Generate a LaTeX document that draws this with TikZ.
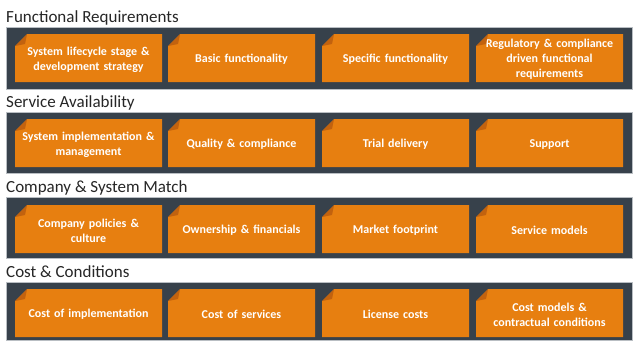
\documentclass[tikz,border=0pt]{standalone}
\usepackage{fontspec}
\setmainfont{Carlito}
\definecolor{bandc}{HTML}{37414B}
\definecolor{bandline}{HTML}{B9BEC3}
\definecolor{orangec}{HTML}{E77F10}
\definecolor{foldc}{HTML}{C2620E}
\begin{document}
\begin{tikzpicture}[x=1pt,y=-1pt,
  band/.style={fill=bandc,draw=bandline,line width=0.8pt},
  title/.style={anchor=base west,inner sep=0pt,font=\fontsize{17}{20}\selectfont,text=black!85},
  card/.style={fill=orangec,draw=none,minimum width=147pt,minimum height=48pt,inner sep=0pt},
  cardtext/.style={text=white,font=\bfseries\fontsize{12}{15}\selectfont,align=center,text width=142pt,inner sep=0pt}
]
\useasboundingbox (0,0) rectangle (636,349);
\fill[white] (0,0) rectangle (636,349);
% card with folded corner: #1 name, #2 x, #3 y, #4 text
\newcommand{\mycard}[4]{%
  \fill[orangec] (#2+12,#3) -- (#2+147,#3) -- (#2+147,#3+48) -- (#2,#3+48) -- (#2,#3+12) -- cycle;
  \node[cardtext] (#1) at (#2+73.5,#3+25.5) {#4};
  \fill[foldc] (#2,#3+12) -- (#2+12,#3) -- (#2+10,#3+10) -- cycle;
  \fill[bandc] (#2-0.5,#3-0.5) -- (#2+12,#3-0.5) -- (#2-0.5,#3+12) -- cycle;
}
% titles
\node[title] (t1) at (6,22) {Functional Requirements};
\node[title] (t2) at (6,107) {Service Availability};
\node[title] (t3) at (6,192) {Company \& System Match};
\node[title] (t4) at (6,277) {Cost \& Conditions};
% bands
\draw[band] (6,27) rectangle (632,89);
\draw[band] (6,112) rectangle (632,173);
\draw[band] (6,197) rectangle (632,258);
\draw[band] (6,282) rectangle (632,340);
% row 1
\mycard{a1}{15}{34}{System lifecycle stage \&\\development strategy}
\mycard{a2}{168}{34}{Basic functionality}
\mycard{a3}{322}{34}{Specific functionality}
\mycard{a4}{476}{34}{Regulatory \& compliance\\driven functional\\requirements}
% row 2
\mycard{b1}{15}{119}{System implementation \&\\management}
\mycard{b2}{168}{119}{Quality \& compliance}
\mycard{b3}{322}{119}{Trial delivery}
\mycard{b4}{476}{119}{Support}
% row 3
\mycard{c1}{15}{205}{Company policies \&\\culture}
\mycard{c2}{168}{205}{Ownership \& financials}
\mycard{c3}{322}{205}{Market footprint}
\mycard{c4}{476}{205}{Service models}
% row 4
\mycard{d1}{15}{289}{Cost of implementation}
\mycard{d2}{168}{289}{Cost of services}
\mycard{d3}{322}{289}{License costs}
\mycard{d4}{476}{289}{Cost models \&\\contractual conditions}
\end{tikzpicture}
\end{document}
